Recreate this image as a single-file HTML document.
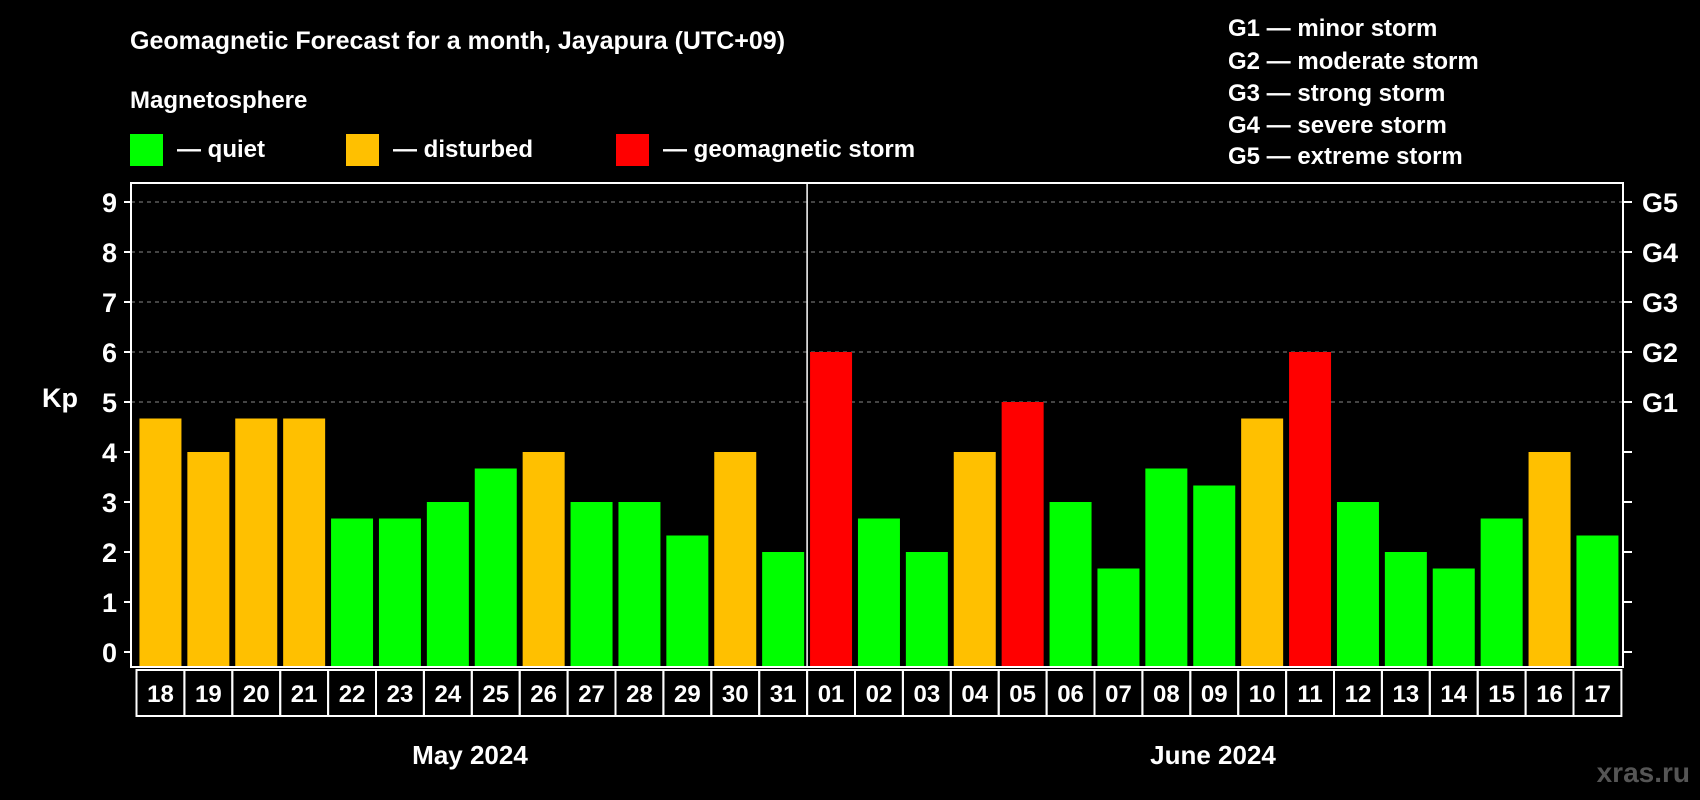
<!DOCTYPE html>
<html><head><meta charset="utf-8"><style>
html,body{margin:0;padding:0;background:#000;}
svg{display:block;font-family:"Liberation Sans",Arial,sans-serif;font-weight:bold;}
</style></head><body>
<svg id="chart" width="1700" height="800" viewBox="0 0 1700 800">
<rect width="1700" height="800" fill="#000"/>
<text x="130" y="49" fill="#fff" font-size="25">Geomagnetic Forecast for a month, Jayapura (UTC+09)</text>
<text x="130" y="108" fill="#fff" font-size="24">Magnetosphere</text>
<g><rect x="130" y="134" width="33" height="32" fill="#00ff00"/><text x="177" y="157" fill="#fff" font-size="24">— quiet</text></g>
<g><rect x="346" y="134" width="33" height="32" fill="#ffc000"/><text x="393" y="157" fill="#fff" font-size="24">— disturbed</text></g>
<g><rect x="616" y="134" width="33" height="32" fill="#ff0000"/><text x="663" y="157" fill="#fff" font-size="24">— geomagnetic storm</text></g>
<g fill="#fff" font-size="24">
<text x="1228" y="36">G1 — minor storm</text>
<text x="1228" y="69">G2 — moderate storm</text>
<text x="1228" y="101">G3 — strong storm</text>
<text x="1228" y="133">G4 — severe storm</text>
<text x="1228" y="164">G5 — extreme storm</text>
</g>
<text x="42" y="407" fill="#fff" font-size="27">Kp</text>
<text x="470" y="764" fill="#fff" font-size="26" text-anchor="middle">May 2024</text>
<text x="1213" y="764" fill="#fff" font-size="26" text-anchor="middle">June 2024</text>
<text x="1690" y="782" fill="#555" font-size="28" text-anchor="end">xras.ru</text>
<g id="plot"></g>
</svg>
<script>
const days = ["18","19","20","21","22","23","24","25","26","27","28","29","30","31","01","02","03","04","05","06","07","08","09","10","11","12","13","14","15","16","17"];
const kpValues = [4.67,4,4.67,4.67,2.67,2.67,3,3.67,4,3,3,2.33,4,2,6,2.67,2,4,5,3,1.67,3.67,3.33,4.67,6,3,2,1.67,2.67,4,2.33];
const yTicks = [0,1,2,3,4,5,6,7,8,9];
const gLabels = ["G1","G2","G3","G4","G5"];
const gLevels = [5,6,7,8,9];
const monthSplitIndex = 14;

const NS="http://www.w3.org/2000/svg";
const g=document.getElementById('plot');
const L=131,R=1623,T=183,B=667,X0=136.5,slot=47.9,bw=42;
const y=v=>652-v*50;
const x=i=>X0+i*slot;
function mk(tag,attrs){const e=document.createElementNS(NS,tag);for(const k in attrs)e.setAttribute(k,attrs[k]);g.appendChild(e);return e;}
yTicks.forEach(t=>{
  if(t>=5){const gl=mk('line',{x1:L,x2:R,y1:y(t),y2:y(t),stroke:'#888','stroke-width':1,'stroke-dasharray':'4,4'});
  
  }
  const tk=mk('line',{x1:L-7,x2:L,y1:y(t),y2:y(t),stroke:'#fff','stroke-width':2});
  
  
  const tr=mk('line',{x1:R,x2:R+9,y1:y(t),y2:y(t),stroke:'#fff','stroke-width':2});
  
  
  const lb=mk('text',{x:L-14,y:y(t)+10,fill:'#fff','font-size':27,'text-anchor':'end'});
  lb.textContent=t;
  
  
});
gLevels.forEach((lv,i)=>{
  const t=mk('text',{x:R+19,y:y(lv)+10,fill:'#fff','font-size':27});
  t.textContent=gLabels[i];
  
  
});
kpValues.forEach((v,i)=>{
  const c=v>=5?'#ff0000':(v>=4?'#ffc000':'#00ff00');
  const b=mk('rect',{x:x(i)+(slot-bw)/2,y:y(v),width:bw,height:y(0)-y(v)+14,fill:c});
  
  
  const cell=mk('rect',{x:x(i),y:670,width:slot,height:46,fill:'none',stroke:'#fff','stroke-width':2});
  
  
  const tl=mk('text',{x:x(i)+slot/2,y:702,fill:'#fff','font-size':24,'text-anchor':'middle'});
  tl.textContent=days[i];
  
  
});
const sep=mk('line',{x1:x(monthSplitIndex),x2:x(monthSplitIndex),y1:T,y2:B,stroke:'#fff','stroke-width':1.5});


const fr=mk('rect',{x:L,y:T,width:R-L,height:B-T,fill:'none',stroke:'#fff','stroke-width':2});


</script>
</body></html>
